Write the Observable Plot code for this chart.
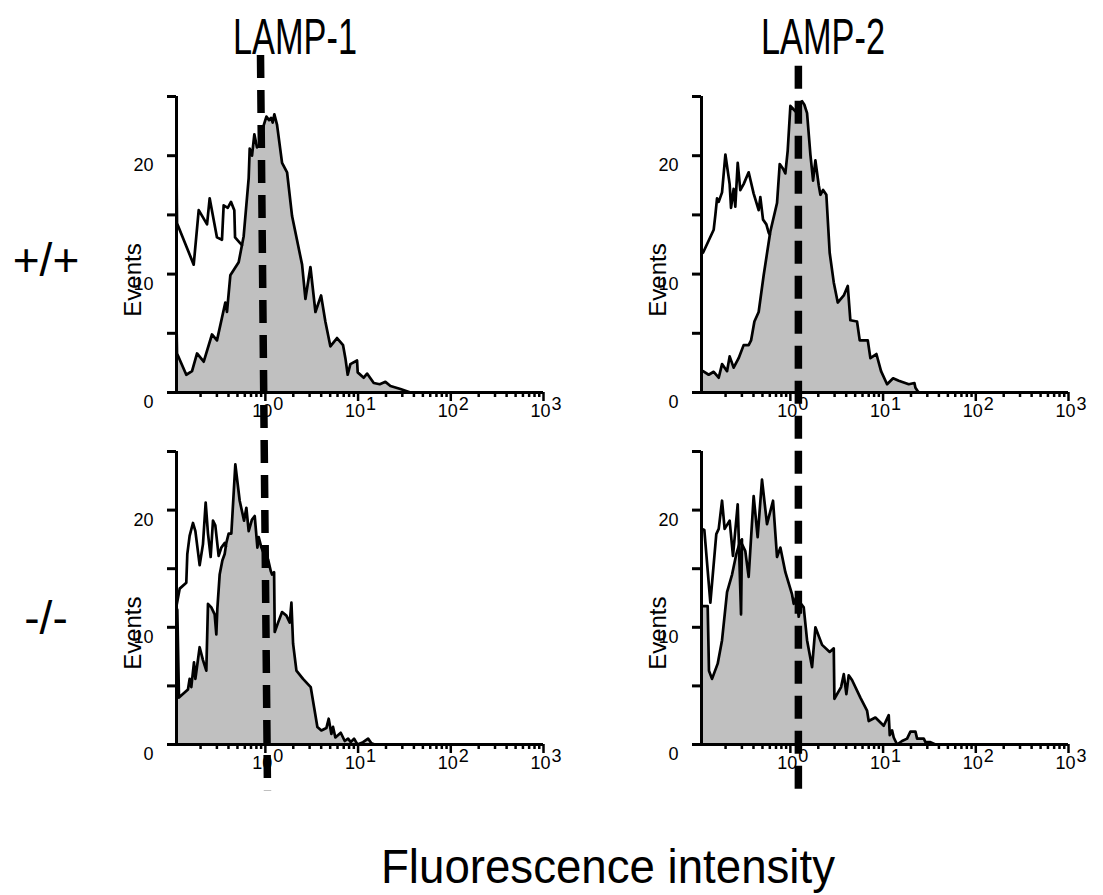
<!DOCTYPE html>
<html>
<head>
<meta charset="utf-8">
<script src="https://cdn.jsdelivr.net/npm/d3@7"></script>
<script src="https://cdn.jsdelivr.net/npm/@observablehq/plot@0.6"></script>
<style>
  body { margin: 0; background: #fff; }
  #fig { position: relative; width: 1103px; height: 895px; overflow: hidden; background: #fff; font-family: "Liberation Sans", Arial, sans-serif; }
  #fig svg { position: absolute; }
</style>
</head>
<body>
<div id="fig"></div>
<script>
// ---------------- DATA ----------------
const columns = ["LAMP-1", "LAMP-2"];
const genotypes = ["+/+", "-/-"];
const xLabel = "Fluorescence intensity";
const yLabel = "Events";
const yTicks = [0, 5, 10, 15, 20, 25];
const yTickLabels = [0, 10, 20];
const decades = [0, 1, 2, 3];          // labelled as 10^n
const xMin = 0.11, xMax = 1000;
const yLabelAt = 9.5;                  // events value at the centre of the rotated "Events" label

// log10(fluorescence intensity) and events
// LAMP-1, +/+ : stained (grey) and control (open)
const lamp1WtStainLog = [-0.960,-0.953,-0.853,-0.791,-0.737,-0.665,-0.576,-0.522,-0.432,-0.414,-0.378,-0.288,-0.234,-0.180,-0.169,-0.144,-0.119,-0.090,-0.054,-0.025,0.011,0.040,0.061,0.079,0.097,0.126,0.180,0.234,0.288,0.396,0.432,0.486,0.540,0.601,0.647,0.701,0.773,0.838,0.863,0.888,0.917,0.989,0.996,1.061,1.097,1.169,1.234,1.295,1.349,1.457,1.565];
const lamp1WtStainEv  = [6.5,3.3,1.5,1.8,3.3,2.6,4.9,4.4,7.6,6.8,9.9,11.0,13.2,18.1,20.6,20.0,21.8,20.7,21.0,22.4,23.3,23.0,23.2,22.8,23.5,22.6,19.4,18.6,14.9,10.8,7.9,10.6,6.8,8.2,6.0,3.9,4.6,4.0,2.9,1.5,2.4,2.7,1.7,1.25,1.6,0.8,0.7,0.9,0.55,0.3,0];
const lamp1WtCtrlLog  = [-0.960,-0.953,-0.773,-0.719,-0.629,-0.601,-0.522,-0.468,-0.450,-0.406,-0.371,-0.335,-0.327,-0.270,-0.252];
const lamp1WtCtrlEv   = [20.1,14.3,10.8,15.4,14.2,16.4,13.1,12.9,15.8,15.6,16.1,15.4,13.1,12.6,12.45];

// LAMP-2, +/+
const lamp2WtStainLog = [-0.942,-0.881,-0.827,-0.773,-0.737,-0.683,-0.655,-0.612,-0.558,-0.504,-0.450,-0.424,-0.388,-0.342,-0.288,-0.216,-0.144,-0.115,-0.079,-0.054,-0.029,0,0.036,0.072,0.090,0.126,0.151,0.180,0.216,0.245,0.270,0.306,0.324,0.353,0.388,0.424,0.468,0.511,0.576,0.619,0.647,0.719,0.748,0.835,0.863,0.928,0.978,1.043,1.108,1.169,1.277,1.338,1.349,1.374,1.390];
const lamp2WtStainEv  = [1.8,1.5,1.75,1.25,2.4,1.8,3.05,2.1,2.9,4.0,4.0,4.4,6.0,6.8,9.9,13.6,16.0,19.3,18.9,18.5,20.4,24.2,23.9,23.6,24.4,24.6,24.3,23.6,20.1,17.9,19.6,17.5,16.7,17.1,16.7,11.8,9.3,7.6,8.2,9.0,6.1,6.0,4.4,4.4,2.9,3.25,1.8,0.7,1.2,1.0,0.7,0.8,0.4,0.1,0];
const lamp2WtCtrlLog  = [-0.958,-0.942,-0.827,-0.809,-0.791,-0.773,-0.737,-0.701,-0.655,-0.640,-0.612,-0.594,-0.568,-0.540,-0.504,-0.450,-0.396,-0.342,-0.324,-0.295,-0.259,-0.234,-0.222];
const lamp2WtCtrlEv   = [11.8,11.8,13.75,15.0,16.4,16.1,16.9,20.1,17.6,15.6,17.2,15.7,19.4,17.1,17.6,18.6,16.8,15.4,16.5,14.6,14.2,13.5,13.35];

// LAMP-1, -/-
const lamp1KoStainLog = [-0.950,-0.932,-0.835,-0.817,-0.799,-0.770,-0.755,-0.709,-0.673,-0.637,-0.619,-0.583,-0.547,-0.529,-0.518,-0.493,-0.464,-0.439,-0.421,-0.396,-0.367,-0.324,-0.277,-0.230,-0.205,-0.180,-0.144,-0.115,-0.086,-0.072,-0.043,-0.007,0.029,0.058,0.072,0.094,0.101,0.137,0.180,0.227,0.263,0.281,0.299,0.335,0.406,0.489,0.525,0.561,0.604,0.658,0.683,0.712,0.730,0.755,0.813,0.856,0.892,0.921,0.957,0.993,1.054,1.108,1.144,1.180];
const lamp1KoStainEv  = [11.5,4.0,4.7,5.6,4.9,7.0,5.6,8.3,7.2,6.3,12.0,11.7,11.1,9.4,11.6,14.5,15.7,16.25,17.2,18.0,18.0,23.9,20.8,19.1,20.2,18.2,19.2,19.5,16.8,17.7,16.8,16.1,15.8,14.8,14.5,14.7,9.6,10.4,11.3,11.0,10.4,12.1,8.6,6.3,5.6,4.9,3.2,1.5,1.2,1.4,2.2,0.9,1.5,0.6,1.0,0.3,0.5,0.2,0.5,0,0.2,0.5,0.1,0];
const lamp1KoCtrlLog  = [-0.958,-0.924,-0.853,-0.842,-0.817,-0.781,-0.755,-0.709,-0.673,-0.644,-0.619,-0.590,-0.565,-0.540,-0.504,-0.475,-0.439,-0.426];
const lamp1KoCtrlEv   = [11.85,13.3,13.8,16.25,17.8,18.9,18.2,15.3,17.1,20.65,18.0,16.0,19.1,18.7,16.1,16.8,17.2,16.9];

// LAMP-2, -/-
const lamp2KoStainLog = [-0.942,-0.892,-0.878,-0.845,-0.784,-0.737,-0.683,-0.629,-0.583,-0.540,-0.486,-0.450,-0.396,-0.353,-0.306,-0.252,-0.187,-0.144,-0.108,-0.054,0.018,0.036,0.065,0.090,0.115,0.144,0.180,0.234,0.270,0.342,0.424,0.468,0.475,0.547,0.576,0.604,0.629,0.665,0.755,0.827,0.845,0.917,1.007,1.061,1.072,1.097,1.115,1.151,1.205,1.259,1.295,1.349,1.367,1.439,1.457,1.511,1.565];
const lamp2KoStainEv  = [11.8,11.8,6.3,5.6,6.9,8.9,13.0,14.5,16.25,17.4,16.5,14.3,21.2,17.7,22.6,18.8,20.8,16.0,16.8,14.7,12.8,12.0,12.6,10.9,12.0,11.7,8.9,6.6,10.0,8.5,7.9,8.2,3.9,4.9,6.0,4.3,5.9,5.5,4.0,2.9,2.0,2.3,1.6,2.5,0.8,1.2,0.6,0,0.3,0.5,1.1,1.1,0.5,0.5,0.2,0.2,0];
const lamp2KoCtrlLog  = [-0.958,-0.928,-0.863,-0.799,-0.773,-0.737,-0.709,-0.655,-0.619,-0.568,-0.532,-0.522];
const lamp2KoCtrlEv   = [18.4,18.3,12.1,17.95,18.4,20.8,18.4,19.1,16.1,20.5,11.1,17.5];

// positive-gate threshold (dashed line), intensity at its two ends and the event-axis span it covers
const lamp1GateIntensity = [0.886, 1.054];
const lamp2GateIntensity = [1.22, 1.22];
const lamp1GateEvents = [28.5, -33.6];
const lamp2GateEvents = [27.6, -33.6];

// ---------------- LAYOUT ----------------
const FONT = "Liberation Sans, Arial, sans-serif";
const colLeft = [0, 525];
const rowTop = [0, 355];
const frameH = [296, 293];

const toRows = (logs, ev) => logs.map((l, i) => ({intensity: 10 ** l, events: ev[i]}));
const minorTicks = [];
for (const d of [-1, 0, 1, 2]) for (let m = 2; m <= 9; m++) minorTicks.push(m * 10 ** d);
const majorTicks = decades.map(d => 10 ** d);

const panels = [
  {row: 1, col: 0, stain: toRows(lamp1KoStainLog, lamp1KoStainEv), ctrl: toRows(lamp1KoCtrlLog, lamp1KoCtrlEv)},
  {row: 1, col: 1, stain: toRows(lamp2KoStainLog, lamp2KoStainEv), ctrl: toRows(lamp2KoCtrlLog, lamp2KoCtrlEv)},
  {row: 0, col: 0, stain: toRows(lamp1WtStainLog, lamp1WtStainEv), ctrl: toRows(lamp1WtCtrlLog, lamp1WtCtrlEv),
   gate: lamp1GateIntensity.map((x, i) => ({intensity: x, events: lamp1GateEvents[i]}))},
  {row: 0, col: 1, stain: toRows(lamp2WtStainLog, lamp2WtStainEv), ctrl: toRows(lamp2WtCtrlLog, lamp2WtCtrlEv),
   gate: lamp2GateIntensity.map((x, i) => ({intensity: x, events: lamp2GateEvents[i]}))}
];

const fig = document.getElementById("fig");

for (const p of panels) {
  const h = frameH[p.row];
  const marks = [
    Plot.areaY(p.stain, {x: "intensity", y: "events", fill: "#c0c0c0"}),
    Plot.lineY(p.ctrl, {x: "intensity", y: "events", stroke: "black", strokeWidth: 2.7}),
    Plot.lineY(p.stain, {x: "intensity", y: "events", stroke: "black", strokeWidth: 2.7}),
    // axes
    Plot.ruleY([0], {stroke: "black", strokeWidth: 3}),
    Plot.ruleX([xMin], {stroke: "black", strokeWidth: 3}),
    Plot.axisY({ticks: yTicks, tickSize: 9, strokeWidth: 3, tickFormat: () => "", label: null}),
    Plot.axisY({ticks: yTickLabels, tickSize: 0, tickPadding: 23, dy: 10, fontSize: 18, label: null, fontFamily: FONT}),
    Plot.axisX({ticks: majorTicks, tickSize: 9, strokeWidth: 2.5, tickFormat: () => "", label: null}),
    Plot.axisX({ticks: minorTicks, tickSize: 5, strokeWidth: 2.5, tickFormat: () => "", label: null}),
    Plot.text(decades, {x: d => 10 ** d, frameAnchor: "bottom", text: () => "10", textAnchor: "end", dx: 7, dy: 24, fontSize: 18, fontFamily: FONT}),
    Plot.text(decades, {x: d => 10 ** d, frameAnchor: "bottom", text: d => String(d), textAnchor: "start", dx: 8, dy: 17, fontSize: 18, fontFamily: FONT}),
    Plot.text([yLabel], {x: xMin, y: yLabelAt, rotate: -90, lineAnchor: "bottom", dx: -36, fontSize: 24, fontFamily: FONT})
  ];
  if (p.gate) {
    marks.push(Plot.line(p.gate, {x: "intensity", y: "events", stroke: "black", strokeWidth: 7.5, strokeDasharray: "23,12", strokeLinecap: "butt"}));
  }
  const chart = Plot.plot({
    width: 560,
    height: 96 + h + 48,
    marginLeft: 176, marginRight: 17, marginTop: 96, marginBottom: 48,
    x: {type: "log", domain: [xMin, xMax]},
    y: {domain: [0, 25]},
    style: {background: "transparent", overflow: "visible", fontFamily: FONT, color: "black"},
    marks
  });
  chart.style.left = colLeft[p.col] + "px";
  chart.style.top = rowTop[p.row] + "px";
  chart.style.maxWidth = "none";
  fig.appendChild(chart);
}

// titles and row / axis labels
const overlay = d3.select(fig).append("svg")
  .attr("width", 1103).attr("height", 895)
  .style("left", "0px").style("top", "0px").style("pointer-events", "none")
  .attr("font-family", FONT);

const colTitleX = [295, 823];
columns.forEach((t, i) => {
  overlay.append("text").attr("x", colTitleX[i]).attr("y", 54)
    .attr("text-anchor", "middle").attr("font-size", 50)
    .attr("textLength", 124).attr("lengthAdjust", "spacingAndGlyphs")
    .text(t);
});
const rowLabelY = [276, 634];
genotypes.forEach((g, i) => {
  overlay.append("text").attr("x", 46).attr("y", rowLabelY[i])
    .attr("text-anchor", "middle").attr("font-size", 46).text(g);
});
overlay.append("text").attr("x", 608).attr("y", 883)
  .attr("text-anchor", "middle").attr("font-size", 49)
  .attr("textLength", 454).attr("lengthAdjust", "spacingAndGlyphs")
  .text(xLabel);
</script>
</body>
</html>
